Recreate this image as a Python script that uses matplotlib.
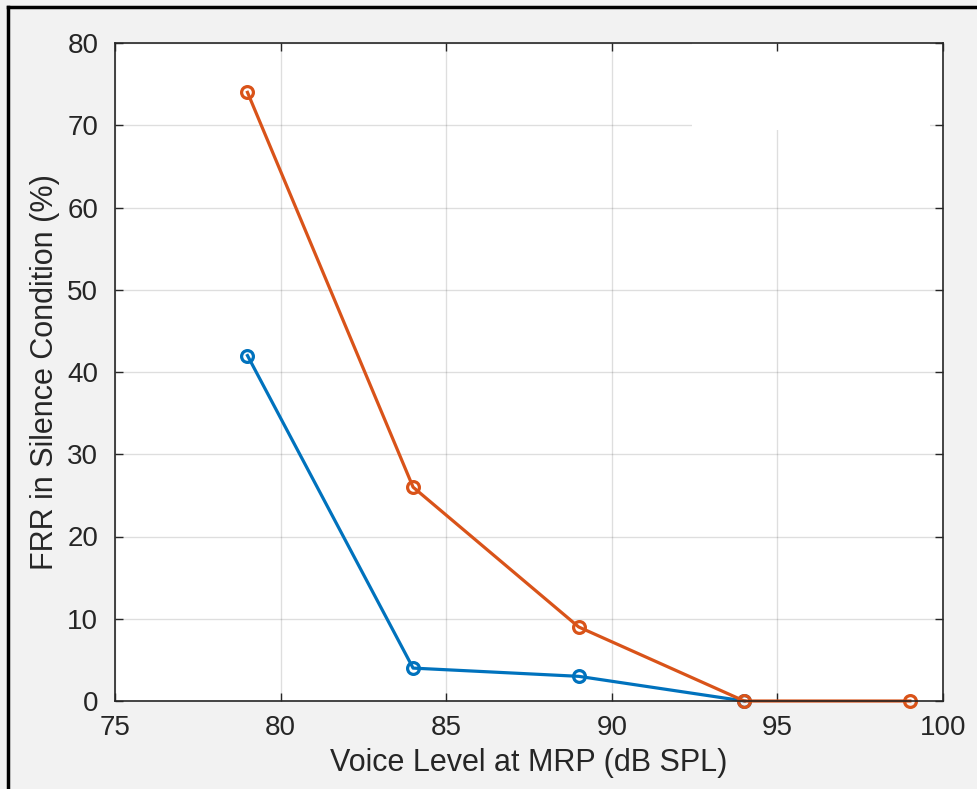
import matplotlib
matplotlib.use("Agg")
import matplotlib.pyplot as plt
from matplotlib.patches import Rectangle
from matplotlib.lines import Line2D

# Data
x_blue = [79, 84, 89, 94]
y_blue = [42, 4, 3, 0]
x_orange = [79, 84, 89, 94, 99]
y_orange = [74, 26, 9, 0, 0]
xticks = [75, 80, 85, 90, 95, 100]
yticks = [0, 10, 20, 30, 40, 50, 60, 70, 80]
xlabel = "Voice Level at MRP (dB SPL)"
ylabel = "FRR in Silence Condition (%)"

plt.rcParams['font.family'] = ['Liberation Sans', 'DejaVu Sans']

fig = plt.figure(figsize=(9.77, 7.89), dpi=100, facecolor='#f2f2f2')
ax = fig.add_axes([115/977, 1-701/789, (943-115)/977, (701-43)/789])
ax.set_facecolor('white')

ax.set_xlim(75, 100)
ax.set_ylim(0, 80)
ax.set_xticks(xticks)
ax.set_yticks(yticks)

# grid drawn manually so a white patch can hide part of it (legend remnant)
ax.vlines(xticks, 0, 80, colors='#262626', alpha=0.15, linewidth=1.0, zorder=0.3)
ax.hlines(yticks, 75, 100, colors='#262626', alpha=0.15, linewidth=1.0, zorder=0.3)
ax.add_patch(Rectangle((92.42, 69.4), 99.6 - 92.42, 80 - 69.4, facecolor='white',
                       edgecolor='none', zorder=0.4))

ax.plot(x_blue, y_blue, color='#0072BD', linewidth=2.3, marker='o', markersize=8.5,
        markerfacecolor='none', markeredgewidth=2.3, zorder=3, clip_on=False)
ax.plot(x_orange, y_orange, color='#D95319', linewidth=2.3, marker='o', markersize=8.5,
        markerfacecolor='none', markeredgewidth=2.3, zorder=3, clip_on=False)

for s in ax.spines.values():
    s.set_color('#262626')
    s.set_linewidth(1.2)
    s.set_zorder(4)

ax.tick_params(direction='in', length=6, width=1.0, color='#262626',
               labelcolor='#262626', labelsize=20, top=True, right=True, pad=10)
ax.tick_params(axis='y', pad=12)

ax.set_xlabel(xlabel, fontsize=22, color='#262626', labelpad=5)
ax.set_ylabel(ylabel, fontsize=22, color='#262626', labelpad=5)

# outer frame lines (left and top)
fig.add_artist(Line2D([8/977, 8/977], [0, 1-7/789], transform=fig.transFigure,
                      color='black', linewidth=2.5))
fig.add_artist(Line2D([8/977, 1], [1-7/789, 1-7/789], transform=fig.transFigure,
                      color='black', linewidth=2.5))

fig.savefig('out.png', dpi=100, facecolor=fig.get_facecolor())
